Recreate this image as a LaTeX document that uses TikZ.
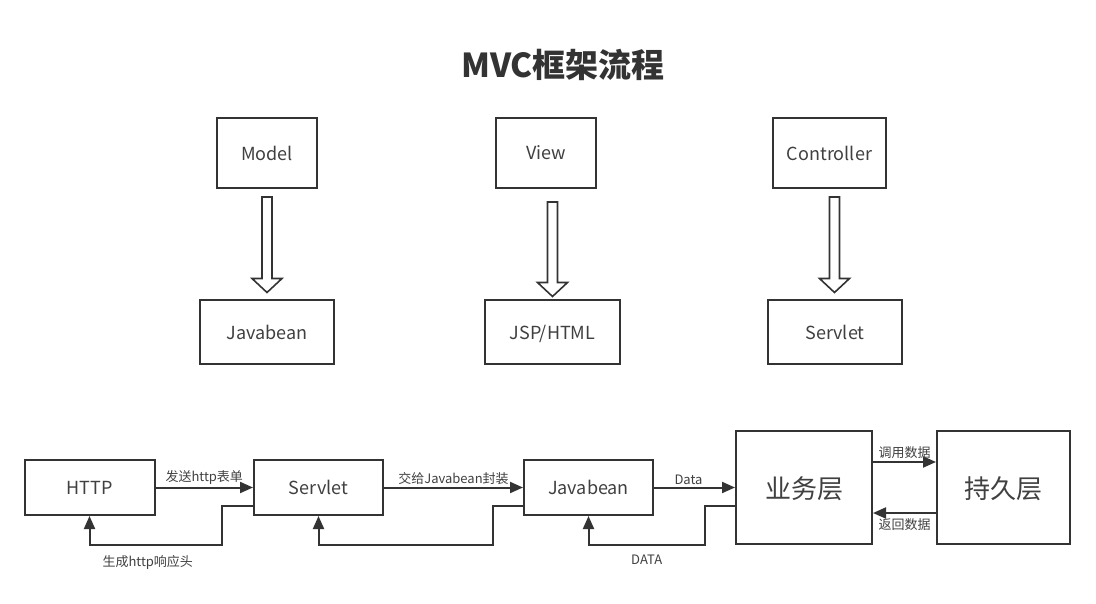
\documentclass[tikz,border=0pt]{standalone}
\usepackage{fontspec}
\setmainfont{Noto Sans CJK SC}
\usetikzlibrary{arrows.meta,calc}
\definecolor{ink}{HTML}{333333}
\definecolor{txt}{HTML}{404040}
\begin{document}
\begin{tikzpicture}[x=1pt,y=-1pt,
  box/.style={draw=ink,line width=2pt,fill=white,text=txt,font=\fontsize{18}{21}\selectfont,inner sep=0pt,text depth=-1pt},
  bigbox/.style={box,minimum width=136pt,minimum height=113pt,font=\fontsize{26}{29}\selectfont},
  conn/.style={draw=ink,line width=2pt,-{Triangle[length=13pt,width=11pt]}},
  lab/.style={text=txt,font=\fontsize{13}{15}\selectfont,inner sep=2pt},
  hollow/.style={draw=ink,line width=1.6pt,fill=white,line join=miter}]
\useasboundingbox (0,0) rectangle (1096,604);
\node[text=ink,font=\fontsize{33}{38}\selectfont\bfseries] (title) at (563,65) {MVC框架流程};

\node[box,minimum width=100pt,minimum height=70pt] (model) at (267,153) {Model};
\node[box,minimum width=100pt,minimum height=70pt] (view) at (546,153) {View};
\node[box,minimum width=113pt,minimum height=70pt] (ctrl) at (829.5,153) {Controller};
\node[box,minimum width=134pt,minimum height=63pt] (jb1) at (267,332) {Javabean};
\node[box,minimum width=135pt,minimum height=63pt] (jsp) at (552.5,332) {JSP/HTML};
\node[box,minimum width=134pt,minimum height=63pt] (sv1) at (835,332) {Servlet};

\draw[hollow] let \p1=(model.south), \p2=(jb1.north) in
  (\x1-5pt,\y1-8pt) -- (\x1+5pt,\y1-8pt) -- (\x1+5pt,\y2+21pt) -- (\x1+15pt,\y2+21pt)
  -- (\x1,\y2+7pt) -- (\x1-15pt,\y2+21pt) -- (\x1-5pt,\y2+21pt) -- cycle;
\draw[hollow] let \p1=(jsp.north), \p2=(view.south) in
  (\x1-5pt,\y2-13pt) -- (\x1+5pt,\y2-13pt) -- (\x1+5pt,\y1+17pt) -- (\x1+15pt,\y1+17pt)
  -- (\x1,\y1+3pt) -- (\x1-15pt,\y1+17pt) -- (\x1-5pt,\y1+17pt) -- cycle;
\draw[hollow] let \p1=(ctrl.south), \p2=(sv1.north) in
  (\x1-0pt,\y1-8pt) -- (\x1+10pt,\y1-8pt) -- (\x1+10pt,\y2+21pt) -- (\x1+20pt,\y2+21pt)
  -- (\x1+5pt,\y2+7pt) -- (\x1-10pt,\y2+21pt) -- (\x1,\y2+21pt) -- cycle;

\node[box,minimum width=130pt,minimum height=55pt] (http) at (89.5,487.5) {HTTP};
\node[box,minimum width=129pt,minimum height=55pt] (sv) at (318.5,487.5) {Servlet};
\node[box,minimum width=129pt,minimum height=55pt] (jb) at (588.5,487.5) {Javabean};
\node[bigbox] (biz) at (804,487.5) {业务层};
\node[bigbox,minimum width=133pt] (per) at (1003.5,487.5) {持久层};

\draw[conn] (http.east) -- node[lab,above] {发送http表单} (sv.west);
\draw[conn] (sv.east) -- node[lab,above] {交给Javabean封装} (jb.west);
\draw[conn] (jb.east) -- node[lab,above,xshift=-6pt] {Data} (biz.west);
\draw[conn] ([yshift=25.5pt]biz.east) -- node[lab,above] {调用数据} ([yshift=25.5pt]per.west);
\draw[conn] ([yshift=-25.5pt]per.west) -- node[lab,below=3pt] {返回数据} ([yshift=-25.5pt]biz.east);

\draw[conn] ([yshift=-18.5pt]sv.west) -- ++(-31,0) -- ++(0,39)
  -| node[lab,pos=0.25,below=7pt,xshift=-8pt] {生成http响应头} (http.south);
\draw[conn] ([yshift=-18.5pt]jb.west) -- ++(-30,0) -- ++(0,39) -| (sv.south);
\draw[conn] ([yshift=-18.5pt]biz.west) -- ++(-30,0) -- ++(0,39)
  -| node[lab,pos=0.25,below=7pt] {DATA} (jb.south);
\end{tikzpicture}
\end{document}
